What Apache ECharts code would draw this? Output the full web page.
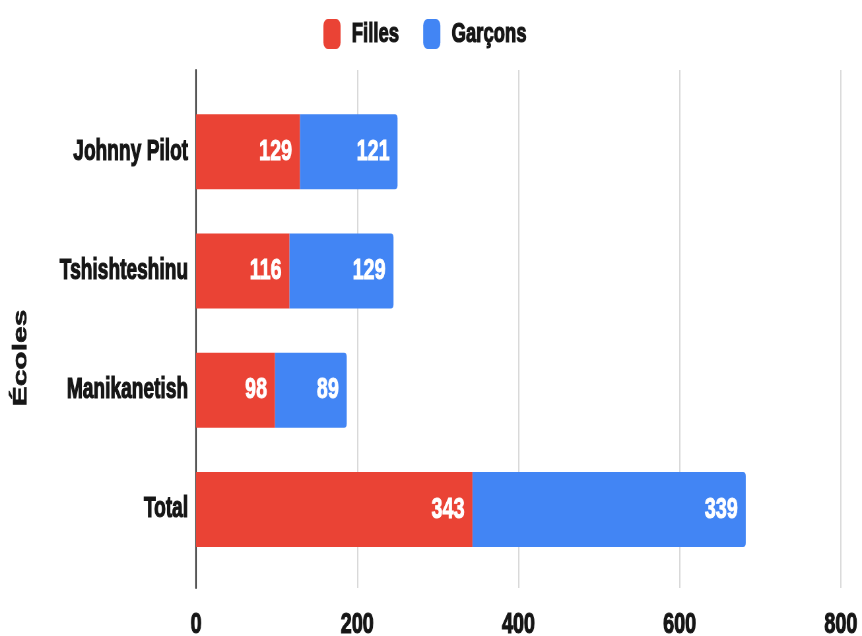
<!DOCTYPE html>
<html lang="fr">
  <head>
    <meta charset="utf-8" />
    <title>Écoles - Filles / Garçons</title>
    <script src="https://cdn.jsdelivr.net/npm/echarts@6.0.0/dist/echarts.min.js"></script>
    <style>
      html, body { margin: 0; padding: 0; background: #fff; overflow: hidden; width: 862px; height: 636px; }
      /* the chart is drawn wider, then squeezed to 862px so the text looks condensed */
      #main { width: 1306px; height: 636px; transform: scaleX(0.66); transform-origin: 0 0; }
    </style>
  </head>
  <body>
    <div id="main"></div>
    <script type="text/javascript">
      // data
      var ecoles = ["Johnny Pilot", "Tshishteshinu", "Manikanetish", "Total"];
      var filles = [129, 116, 98, 343];
      var garcons = [121, 129, 89, 339];
      var seriesNames = ["Filles", "Garçons"];
      var xTicks = [0, 200, 400, 600, 800];

      var sx = 0.66; // horizontal squeeze
      var font = "'Liberation Sans', Arial, sans-serif";
      var ink = "#161616";
      var myChart = echarts.init(document.getElementById("main"));

      var darkText = function (size) {
        return { fontFamily: font, fontWeight: "bold", fontSize: size, color: ink, textBorderColor: ink, textBorderWidth: 1.2 };
      };
      var whiteLabel = {
        show: true, position: "insideRight", distance: 12,
        color: "#fff", fontFamily: font, fontWeight: "bold", fontSize: 30,
        textBorderColor: "#fff", textBorderWidth: 1
      };

      var option = {
        animation: false,
        color: ["#EA4335", "#4285F4"],
        legend: {
          data: seriesNames,
          top: 14,
          left: Math.round(320 / sx),
          itemWidth: Math.round(17 / sx),
          itemHeight: 30,
          itemGap: Math.round(24 / sx),
          icon: "roundRect",
          textStyle: Object.assign(darkText(28), { padding: [0, 0, 0, 12] })
        },
        grid: [
          { left: Math.round(196 / sx), right: Math.round(21 / sx), top: 92, bottom: 67, outerBoundsMode: "none" },
          { left: Math.round(196 / sx), right: Math.round(21 / sx), top: 70, bottom: 48, outerBoundsMode: "none" }
        ],
        xAxis: [
          { type: "value", gridIndex: 0, min: 0, max: 800, show: false },
          {
            type: "value", gridIndex: 1, min: 0, max: 800, interval: 200,
            axisLine: { show: false },
            axisTick: { show: false },
            splitLine: { lineStyle: { color: "#cccccc", width: 1.5 } },
            axisLabel: Object.assign(darkText(30), {
              margin: 22,
              formatter: function (v) { return xTicks.indexOf(v) >= 0 ? String(v) : ""; }
            })
          }
        ],
        yAxis: [
          {
            type: "category", gridIndex: 0, data: ecoles, inverse: true,
            axisLine: { show: false },
            axisTick: { show: false },
            axisLabel: Object.assign(darkText(29), { margin: 12 })
          },
          {
            type: "value", gridIndex: 1, min: 0, max: 1,
            axisLine: { show: true, lineStyle: { color: "#333", width: 2.2 } },
            axisTick: { show: false },
            axisLabel: { show: false },
            splitLine: { show: false },
            name: "Écoles",
            nameLocation: "middle",
            nameRotate: 90,
            nameGap: 250,
            nameTextStyle: Object.assign(darkText(30), { textBorderWidth: 0.8, padding: [0, 58, 0, 0] })
          }
        ],
        series: [
          {
            name: seriesNames[0], type: "bar", stack: "total", xAxisIndex: 0, yAxisIndex: 0,
            data: filles, barWidth: 75,
            label: whiteLabel
          },
          {
            name: seriesNames[1], type: "bar", stack: "total", xAxisIndex: 0, yAxisIndex: 0,
            data: garcons, barWidth: 75,
            itemStyle: { borderRadius: [0, 4, 4, 0] },
            label: whiteLabel
          }
        ]
      };

      myChart.setOption(option);
    </script>
  </body>
</html>
